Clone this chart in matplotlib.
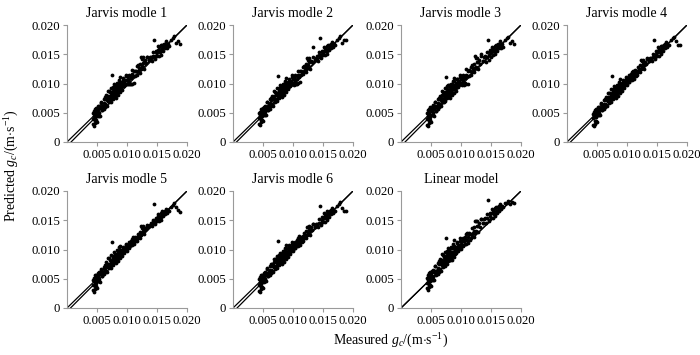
import numpy as np
import matplotlib
matplotlib.use("Agg")
import matplotlib.pyplot as plt

plt.rcParams['font.family'] = ['Liberation Serif', 'DejaVu Serif']
plt.rcParams['mathtext.fontset'] = 'custom'
plt.rcParams['mathtext.rm'] = 'Liberation Serif'
plt.rcParams['mathtext.it'] = 'Liberation Serif:italic'

# ---------------- data (values in units of 1e-4 m s^-1) ----------------
UNIT = 1e-4
titles = ["Jarvis modle 1", "Jarvis modle 2", "Jarvis modle 3", "Jarvis modle 4",
          "Jarvis modle 5", "Jarvis modle 6", "Linear model"]

measured = [43,44,44,45,45,45,46,46,46,47,47,47,48,48,48,49,49,50,50,51,51,52,52,53,54,55,56,57,58,59,
            60,61,62,62,63,64,65,65,66,67,68,69,70,70,71,72,72,73,74,74,75,75,76,77,77,78,78,79,80,80,
            81,81,82,82,83,83,84,84,85,85,86,86,87,87,88,88,89,90,90,91,92,93,94,95,96,97,98,99,100,101,
            102,103,104,105,106,107,108,109,110,111,112,114,115,116,118,
            120,121,122,123,124,125,126,127,128,130,132,134,136,138,141,
            143,145,146,147,148,150,151,152,153,154,155,156,157,158,159,160,161,162,163,164,165,166,168,170,173,
            176,179,182,185,188,
            50,53,55,57,58,61,63,64,66,68,69,71,73,75,76,78,79,81,83,84,
            86,88,89,91,92,94,95,97,99,100,102,104,106,108,110,113,117,119,122,125,
            129,133,137,140,144,149,153,157,162,167]

pred_jarvis1 = [30,49,40,28,53,45,37,49,57,41,33,49,55,46,37,58,44,54,35,52,61,45,58,50,62,45,60,69,54,61,
                62,56,74,66,60,73,80,64,72,61,79,72,87,68,79,73,85,69,80,93,
                115,77,86,74,91,84,99,79,89,96,84,93,80,89,101,84,94,88,100,80,
                94,106,89,99,93,85,103,97,91,102,96,109,100,95,99,106,99,112,100,99,
                108,99,115,99,109,100,116,100,112,101,122,113,121,130,121,
                126,118,134,125,145,130,135,145,124,140,135,146,140,145,138,
                147,175,147,142,156,147,157,164,147,157,154,165,149,160,165,156,166,163,160,168,172,161,167,164,175,
                178,182,169,172,167,
                57,45,58,67,54,62,77,62,75,88,73,70,85,81,94,80,88,76,97,91,
                89,99,111,96,89,106,103,99,115,106,112,103,113,123,113,122,115,131,127,142,
                137,146,140,146,154,153,162,155,167,166]

pred_jarvis2 = [31,50,41,29,52,46,38,48,56,42,34,50,54,47,38,57,45,53,36,51,60,46,57,51,61,46,59,68,55,62,
                63,57,73,67,61,72,79,65,73,62,78,73,86,69,80,74,84,70,81,92,
                113,78,87,75,90,85,98,80,88,95,85,92,81,90,100,85,95,89,99,81,
                95,105,90,98,94,86,102,98,92,101,97,108,101,96,100,105,100,111,101,98,
                107,100,114,100,108,99,115,101,111,102,121,114,120,129,122,
                127,119,133,126,144,131,136,144,125,139,136,163,141,144,139,
                148,178,148,143,155,148,156,163,148,158,155,164,150,159,166,157,165,164,161,167,171,162,168,165,174,
                177,181,170,175,175,
                58,46,57,68,55,63,76,63,74,87,74,71,84,82,93,81,87,77,96,92,
                90,98,110,97,90,105,104,100,114,107,111,104,112,122,114,121,116,130,128,141,
                138,145,141,147,153,154,161,156,166,167]

pred_jarvis3 = [29,50,39,28,54,44,37,50,56,40,32,48,56,45,38,59,43,55,34,53,60,46,59,49,63,44,61,68,53,60,
                61,57,73,67,59,74,79,65,71,62,80,71,86,69,78,74,84,70,79,92,
                111,78,85,75,90,85,98,80,88,97,83,94,81,88,100,85,93,89,99,81,
                93,105,90,98,94,84,104,96,92,101,97,108,101,94,100,105,100,111,101,98,
                107,100,114,98,110,101,115,99,113,100,121,112,122,129,120,
                125,119,133,126,147,129,136,144,125,141,134,150,139,146,137,
                146,174,148,141,157,146,158,163,148,156,155,164,150,159,166,155,167,162,161,167,173,160,168,163,174,
                177,180,170,173,168,
                56,46,57,68,53,63,76,61,76,87,74,69,86,80,95,79,89,75,98,90,
                90,98,110,97,88,107,102,100,114,107,111,104,112,124,112,123,114,132,126,143,
                136,147,139,147,153,154,161,156,166,165]

pred_jarvis4 = [29,48,41,27,52,46,36,48,55,42,31,50,54,45,36,56,43,53,34,51,59,46,56,49,60,46,58,66,55,60,
                61,57,71,65,60,71,77,63,71,61,77,71,84,67,77,72,83,68,78,90,
                113,76,84,73,88,82,95,77,87,93,83,91,79,87,98,83,92,87,97,79,
                92,103,88,97,92,84,101,95,90,100,95,106,98,93,103,98,108,102,97,109,
                104,114,103,111,107,116,106,113,122,108,117,123,113,122,119,
                124,119,131,124,140,128,133,140,125,137,134,143,139,143,139,
                146,174,146,142,155,147,156,162,147,157,153,164,150,160,164,156,165,163,160,167,171,162,166,165,174,
                177,180,172,166,165,
                55,46,57,65,54,61,74,61,73,84,72,69,82,79,90,79,86,76,94,89,
                88,96,107,94,88,103,101,98,111,104,109,102,111,119,112,119,114,128,125,138,
                134,142,139,144,151,151,159,154,165,165]

pred_jarvis5 = [30,48,40,28,52,46,37,48,56,42,32,50,53,45,37,57,43,52,35,51,60,46,57,49,61,45,59,67,55,59,
                60,58,70,66,61,70,78,63,72,62,76,72,85,68,76,73,82,69,79,91,
                113,77,85,74,87,83,96,78,86,92,84,90,80,88,99,82,93,86,96,80,
                91,104,89,96,93,85,100,96,91,99,96,105,99,94,102,99,107,103,98,108,
                105,113,104,110,108,115,107,112,121,109,116,122,114,121,120,
                125,120,130,125,141,129,132,141,126,136,135,142,140,142,140,
                147,178,147,143,154,148,157,161,148,156,154,163,151,159,165,157,164,164,161,166,170,163,167,166,173,
                176,179,173,167,164,
                54,47,58,64,55,62,73,62,72,85,73,70,81,80,89,80,85,77,93,90,
                87,97,106,95,89,102,100,99,110,105,108,103,112,118,113,118,115,127,126,137,
                135,141,140,145,150,152,158,155,164,166]

pred_jarvis6 = [29,49,40,27,53,45,36,49,56,41,32,49,55,46,36,57,44,53,34,52,60,45,57,50,61,46,59,68,54,60,
                61,57,72,65,60,72,76,64,71,61,78,71,83,67,78,72,84,68,77,89,
                114,76,83,73,89,82,94,77,88,93,83,92,79,86,98,84,91,87,98,79,
                92,102,88,98,92,84,102,95,90,101,95,107,98,93,104,98,109,102,97,110,
                104,113,103,112,107,117,106,114,123,108,118,122,113,123,119,
                124,119,132,124,139,128,134,140,125,138,134,144,139,143,138,
                146,175,146,142,156,147,156,163,147,157,153,165,150,160,163,156,166,163,160,168,171,162,165,165,174,
                177,181,171,166,166,
                55,46,57,66,54,61,75,61,73,83,72,69,83,79,91,79,86,76,95,89,
                88,96,108,94,88,104,101,98,112,104,110,102,111,120,112,119,114,129,125,139,
                134,143,139,144,152,151,160,154,165,164]

pred_linear = [34,52,43,31,56,48,40,52,60,44,36,53,58,49,40,61,47,57,38,55,64,48,61,53,65,48,63,71,57,64,
               64,58,77,68,62,76,83,66,75,63,82,74,90,70,81,75,88,71,82,96,
               119,79,89,76,94,86,102,81,91,99,86,96,82,91,104,86,96,90,103,82,
               96,109,91,102,95,87,106,99,93,105,98,112,102,97,108,101,114,105,101,114,
               107,120,106,115,110,122,109,117,128,111,121,128,117,127,123,
               128,122,138,128,148,132,140,149,130,145,138,152,145,152,145,
               153,185,151,149,162,154,163,170,154,164,160,171,157,166,172,163,172,168,165,174,177,169,174,173,179,
               180,183,177,181,179,
               60,48,61,71,58,66,81,66,79,92,77,74,89,84,98,84,93,82,102,94,
               93,103,116,99,94,111,106,102,119,109,115,107,117,127,117,127,120,136,132,149,
               141,152,146,153,160,157,167,161,172,172]

predicted_series = [pred_jarvis1, pred_jarvis2, pred_jarvis3, pred_jarvis4,
                    pred_jarvis5, pred_jarvis6, pred_linear]

fit_slope = [1.035, 1.03, 1.035, 1.03, 1.03, 1.035, 1.0]
fit_intercept = [-0.0007, -0.0006, -0.0007, -0.0006, -0.0006, -0.0007, 0.0]

xticks = [0.005, 0.010, 0.015, 0.020]
xtick_labels = ["0.005", "0.010", "0.015", "0.020"]
yticks = [0.0, 0.005, 0.010, 0.015, 0.020]
ytick_labels = ["0", "0.005", "0.010", "0.015", "0.020"]
LIM = 0.020

# ---------------- figure ----------------
W, H = 700, 355
fig = plt.figure(figsize=(W / 100, H / 100), dpi=100)

col_left = [67, 233, 401, 567]
row_top = [25, 191]
ax_w, ax_h = 120, 117
grey = "#9a9a9a"

x_meas = np.array(measured) * UNIT
for i, (title, pred) in enumerate(zip(titles, predicted_series)):
    r, c = divmod(i, 4)
    left = col_left[c] / W
    bottom = 1 - (row_top[r] + ax_h) / H
    ax = fig.add_axes([left, bottom, ax_w / W, ax_h / H])
    y_pred = np.array(pred) * UNIT

    # 1:1 line
    ax.plot([0, LIM], [0, LIM], color="black", lw=0.9, zorder=2)
    # fitted line
    a, b = fit_slope[i], fit_intercept[i]
    x0 = max(0.0, -b / a)
    x1 = min(LIM, (LIM - b) / a)
    ax.plot([x0, x1], [a * x0 + b, a * x1 + b], color="black", lw=0.9, zorder=2)

    ax.scatter(x_meas, y_pred, s=7.5, c="black", marker="o", linewidths=0, zorder=3)

    ax.set_xlim(0, LIM)
    ax.set_ylim(0, LIM)
    ax.set_xticks(xticks)
    ax.set_xticklabels(xtick_labels)
    ax.set_yticks(yticks)
    ax.set_yticklabels(ytick_labels)
    for s in ("top", "right"):
        ax.spines[s].set_visible(False)
    for s in ("left", "bottom"):
        ax.spines[s].set_color(grey)
        ax.spines[s].set_linewidth(0.8)
    ax.tick_params(direction="out", length=3, width=0.8, color=grey,
                   labelcolor="black", labelsize=9.2, pad=2)
    ax.set_title(title, fontsize=10, pad=6)

fig.text(391 / W, 1 - 341 / H, r"Measured $g_c$/(m$\cdot$s$^{-1}$)",
         ha="center", va="center", fontsize=10)
fig.text(12 / W, 1 - 166 / H, r"Predicted $g_c$/(m$\cdot$s$^{-1}$)",
         ha="center", va="center", rotation=90, fontsize=10)

fig.savefig("out.png", dpi=100)
